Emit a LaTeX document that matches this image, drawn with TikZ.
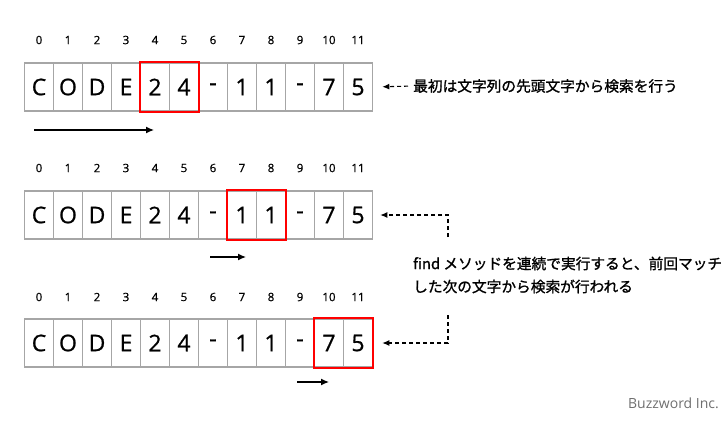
\documentclass[tikz,border=0pt]{standalone}
\usepackage{fontspec}
\setmainfont{Open Sans}
\newfontfamily\jpfont[FakeBold=1.2]{Noto Sans CJK JP}
\newfontfamily\cellfont[FakeBold=0.8]{Open Sans}
\usetikzlibrary{arrows.meta}
\definecolor{cellgray}{HTML}{A6A6A6}
\definecolor{markgray}{HTML}{6F6F6F}
\tikzset{
  cell/.style={draw=cellgray, line width=1.6pt, minimum width=29pt, minimum height=48pt, inner sep=0pt, font=\cellfont\fontsize{23}{24}\selectfont, text=black},
  idx/.style={font=\cellfont\fontsize{11.5}{12}\selectfont, inner sep=0pt},
  hit/.style={draw=red, line width=1.8pt},
  move/.style={line width=1.3pt, -{Latex[length=8pt,width=7pt]}},
  note/.style={dashed, line width=1.1pt, dash pattern=on 4pt off 3pt, -{Latex[length=7pt,width=6pt]}},
  notetext/.style={font=\jpfont\fontsize{14.7}{23}\selectfont, anchor=west, align=left, inner sep=0pt}
}
\begin{document}
\begin{tikzpicture}[x=1pt,y=-1pt]
\useasboundingbox (0,0) rectangle (728,424);
\def\chars{{"C","O","D","E","2","4","-","1","1","-","7","5"}}
\foreach \r/\cy/\ly in {1/87/40, 2/215/168, 3/343/297} {
  \foreach \i in {0,...,11} {
    \pgfmathsetmacro{\ch}{\chars[\i]}
    \node[cell] (r\r c\i) at ({39+29*\i},\cy) {\ch};
    \node[idx] (l\r c\i) at ({39+29*\i},\ly) {\i};
  }
}
\draw[hit] (r1c4.north west) rectangle (r1c5.south east);
\draw[hit] (r2c7.north west) rectangle (r2c8.south east);
\draw[hit] (r3c10.north west) rectangle (r3c11.south east);
% movement arrows
\coordinate (a1s) at (34,130); \coordinate (a1e) at (154,130);
\draw[move] (a1s) -- (a1e);
\coordinate (a2s) at (210,257); \coordinate (a2e) at (246,257);
\draw[move] (a2s) -- (a2e);
\coordinate (a3s) at (297,382); \coordinate (a3e) at (329,382);
\draw[move] (a3s) -- (a3e);
% notes
\node[notetext] (t1) at (413,86) {最初は文字列の先頭文字から検索を行う};
\node[notetext] (t2) at (413,275) {find メソッドを連続で実行すると、前回マッチ\\した次の文字から検索が行われる};
\draw[note, shorten <=5pt, shorten >=9pt] (t1.west) -- (r1c11.east);
\coordinate (k2) at (448,237);
\coordinate (k3) at (448,315);
\draw[note, shorten >=7pt] (k2) |- (r2c11.east);
\draw[note, shorten >=9pt] (k3) |- (r3c11.east);
\node[font=\fontsize{14}{15}\selectfont, text=markgray, anchor=east, inner sep=0pt] (bz) at (719,403) {Buzzword Inc.};
\end{tikzpicture}
\end{document}
